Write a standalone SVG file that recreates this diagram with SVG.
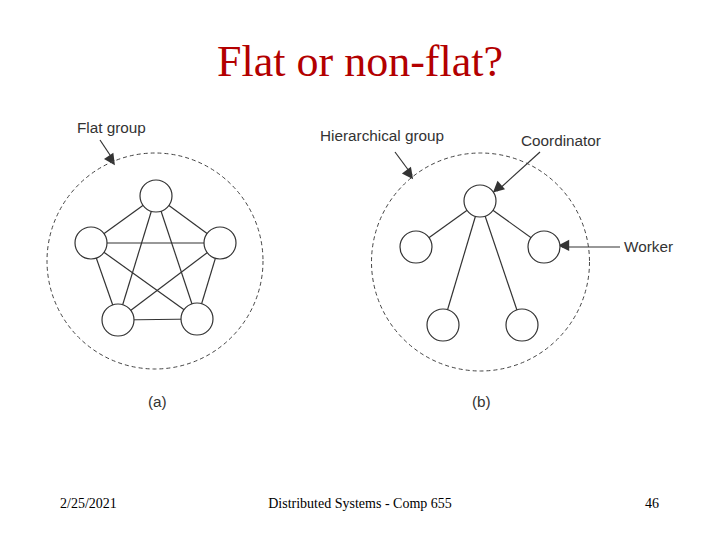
<svg xmlns="http://www.w3.org/2000/svg" width="720" height="540" viewBox="0 0 720 540">
<defs>
<style>
.title{font-family:"Liberation Serif",serif;font-size:44px;fill:#b30000}
.foot{font-family:"Liberation Serif",serif;font-size:14px;fill:#000}
.lbl{font-family:"Liberation Sans",Arial,sans-serif;font-size:15.3px;fill:#333}
.grp{fill:none;stroke:#444;stroke-width:1;stroke-dasharray:4 3}
.node{fill:#fff;stroke:#333;stroke-width:1.2}
.edge{stroke:#333;stroke-width:1.2;fill:none}
.ptr{stroke:#333;stroke-width:1.2;fill:none;marker-end:url(#ah)}
</style>
<marker id="ah" viewBox="0 0 10 10" refX="9" refY="5" markerWidth="10" markerHeight="8" markerUnits="userSpaceOnUse" orient="auto" overflow="visible">
<path d="M0,0 L10,5 L0,10 z" fill="#333" transform="scale(1.4)"/>
</marker>
</defs>
<rect width="720" height="540" fill="#fff"/>
<text class="title" x="360" y="76" text-anchor="middle">Flat or non-flat?</text>

<g id="connectors">
<line class="edge" x1="156" y1="196" x2="91" y2="243"/>
<line class="edge" x1="156" y1="196" x2="220" y2="243"/>
<line class="edge" x1="156" y1="196" x2="118" y2="320"/>
<line class="edge" x1="156" y1="196" x2="197" y2="319"/>
<line class="edge" x1="91" y1="243" x2="220" y2="243"/>
<line class="edge" x1="91" y1="243" x2="118" y2="320"/>
<line class="edge" x1="91" y1="243" x2="197" y2="319"/>
<line class="edge" x1="220" y1="243" x2="118" y2="320"/>
<line class="edge" x1="220" y1="243" x2="197" y2="319"/>
<line class="edge" x1="118" y1="320" x2="197" y2="319"/>
<line class="edge" x1="480" y1="201" x2="416" y2="247"/>
<line class="edge" x1="480" y1="201" x2="544" y2="247"/>
<line class="edge" x1="480" y1="201" x2="443" y2="325"/>
<line class="edge" x1="480" y1="201" x2="522" y2="325"/>
<line class="ptr" x1="100" y1="140" x2="114" y2="161"/>
<line class="ptr" x1="395" y1="152" x2="412" y2="175"/>
<line class="ptr" x1="540" y1="152" x2="497" y2="191"/>
<line class="ptr" x1="620" y1="247" x2="562" y2="247"/>
</g>

<g id="flat-group">
<circle class="grp" cx="155" cy="261" r="108"/>
<text class="lbl" x="77" y="133">Flat group</text>
</g>
<g id="flat-n1"><circle class="node" cx="156" cy="196" r="16"/></g>
<g id="flat-n2"><circle class="node" cx="91" cy="243" r="16"/></g>
<g id="flat-n3"><circle class="node" cx="220" cy="243" r="16"/></g>
<g id="flat-n4"><circle class="node" cx="118" cy="320" r="16"/></g>
<g id="flat-n5"><circle class="node" cx="197" cy="319" r="16"/></g>

<g id="hier-group">
<circle class="grp" cx="480.5" cy="262" r="109"/>
<text class="lbl" x="320" y="141">Hierarchical group</text>
</g>
<g id="coordinator">
<circle class="node" cx="480" cy="201" r="16"/>
<text class="lbl" x="521" y="146">Coordinator</text>
</g>
<g id="worker-1"><circle class="node" cx="416" cy="247" r="16"/></g>
<g id="worker-2">
<circle class="node" cx="544" cy="247" r="16"/>
<text class="lbl" x="624" y="252">Worker</text>
</g>
<g id="worker-3"><circle class="node" cx="443" cy="325" r="16"/></g>
<g id="worker-4"><circle class="node" cx="522" cy="325" r="16"/></g>

<text class="lbl" x="148" y="407">(a)</text>
<text class="lbl" x="472" y="407">(b)</text>

<text class="foot" x="60" y="508">2/25/2021</text>
<text class="foot" x="360" y="508" text-anchor="middle">Distributed Systems - Comp 655</text>
<text class="foot" x="659" y="508" text-anchor="end">46</text>
</svg>
